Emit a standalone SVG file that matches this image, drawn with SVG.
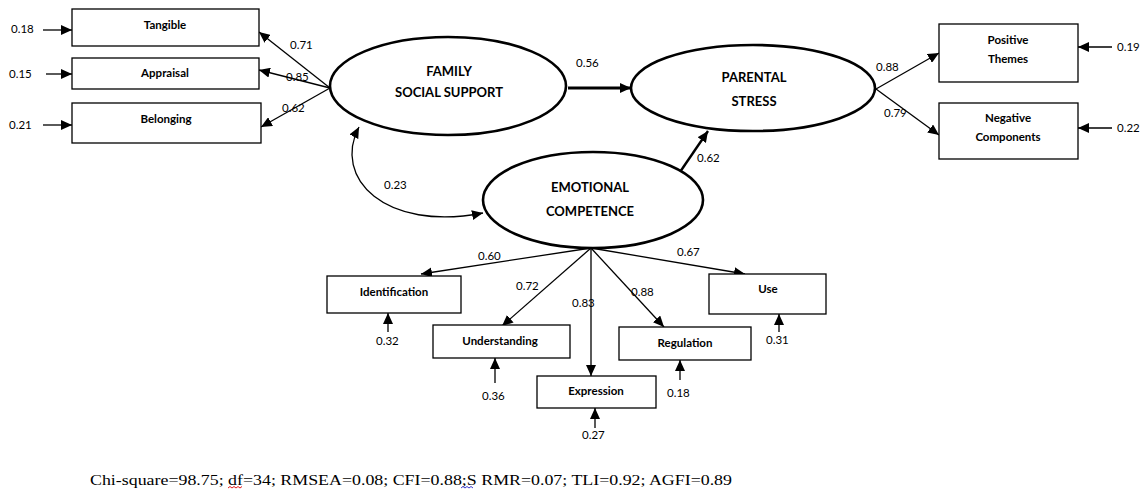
<svg xmlns="http://www.w3.org/2000/svg" width="1147" height="492" viewBox="0 0 1147 492">
<defs>
<marker id="ah" markerUnits="userSpaceOnUse" markerWidth="12" markerHeight="10" refX="11" refY="5" orient="auto-start-reverse">
<path d="M0,0 L11,5 L0,10 z" fill="#000"/>
</marker>
<style>
.box{fill:#fff;stroke:#000;stroke-width:1.3}
.ell{fill:#fff;stroke:#000;stroke-width:2.6}
.lbl{font-family:Lato,"Open Sans","Liberation Sans",sans-serif;font-weight:bold;font-size:11.5px;text-anchor:middle;fill:#000}
.lat{font-family:Lato,"Open Sans","Liberation Sans",sans-serif;font-weight:bold;font-size:13px;text-anchor:middle;fill:#000}
.num{font-family:Lato,"Open Sans","Liberation Sans",sans-serif;font-size:11.5px;fill:#000}
.c{fill:none;stroke:#000;stroke-width:1.3;marker-end:url(#ah)}
.thick{fill:none;stroke:#000;stroke-width:3;marker-end:url(#ah)}
.foot{font-family:"Liberation Serif","Times New Roman",serif;font-size:14px;fill:#000}
</style>
</defs>
<rect width="1147" height="492" fill="#fff"/>

<g id="connectors">
<line class="c" x1="43" y1="30" x2="72" y2="30"/>
<line class="c" x1="46" y1="74" x2="72" y2="74"/>
<line class="c" x1="43" y1="125" x2="72" y2="125"/>
<line class="c" x1="330" y1="88" x2="259" y2="32"/>
<line class="c" x1="330" y1="88" x2="259" y2="70"/>
<line class="c" x1="330" y1="88" x2="261" y2="127"/>
<line class="thick" x1="568" y1="88" x2="631" y2="88"/>
<line class="c" style="stroke-width:2.4" x1="680" y1="172" x2="708" y2="131"/>
<line class="c" x1="876" y1="89" x2="939" y2="53"/>
<line class="c" x1="876" y1="89" x2="939" y2="135"/>
<line class="c" x1="1112" y1="47" x2="1078" y2="47"/>
<line class="c" x1="1112" y1="128" x2="1078" y2="128"/>
<path class="c" style="marker-start:url(#ah)" d="M359 127 C332 178, 385 232, 483 213"/>
<line class="c" x1="591" y1="248" x2="421" y2="274"/>
<line class="c" x1="591" y1="248" x2="502" y2="326"/>
<line class="c" x1="591" y1="248" x2="591" y2="376"/>
<line class="c" x1="591" y1="248" x2="664" y2="327"/>
<line class="c" x1="591" y1="248" x2="745" y2="274"/>
<line class="c" x1="388" y1="332" x2="388" y2="313"/>
<line class="c" x1="495" y1="383" x2="495" y2="358"/>
<line class="c" x1="595" y1="428" x2="595" y2="408"/>
<line class="c" x1="680" y1="380" x2="680" y2="360"/>
<line class="c" x1="779" y1="332" x2="779" y2="314"/>
</g>

<g id="tangible"><rect class="box" x="72" y="9" width="187" height="37"/><text class="lbl" x="165" y="29">Tangible</text></g>
<g id="appraisal"><rect class="box" x="72" y="58" width="187" height="31"/><text class="lbl" x="165" y="77">Appraisal</text></g>
<g id="belonging"><rect class="box" x="72" y="103" width="189" height="40"/><text class="lbl" x="166" y="123">Belonging</text></g>

<g id="fss"><ellipse class="ell" cx="448" cy="86" rx="118" ry="49"/><text class="lat" x="449" y="76">FAMILY</text><text class="lat" x="449" y="97">SOCIAL SUPPORT</text></g>
<g id="ps"><ellipse class="ell" cx="753" cy="88" rx="122" ry="43"/><text class="lat" x="754" y="82">PARENTAL</text><text class="lat" x="754" y="106">STRESS</text></g>
<g id="ec"><ellipse class="ell" cx="593" cy="200" rx="110" ry="48"/><text class="lat" x="590" y="192">EMOTIONAL</text><text class="lat" x="590" y="216">COMPETENCE</text></g>

<g id="positive"><rect class="box" x="939" y="24" width="139" height="58"/><text class="lbl" x="1008" y="44">Positive</text><text class="lbl" x="1008" y="63">Themes</text></g>
<g id="negative"><rect class="box" x="939" y="103" width="139" height="56"/><text class="lbl" x="1008" y="122">Negative</text><text class="lbl" x="1008" y="141">Components</text></g>

<g id="identification"><rect class="box" x="327" y="276" width="134" height="37"/><text class="lbl" x="394" y="296">Identification</text></g>
<g id="understanding"><rect class="box" x="433" y="325" width="137" height="33"/><text class="lbl" x="500" y="345">Understanding</text></g>
<g id="expression"><rect class="box" x="537" y="376" width="119" height="32"/><text class="lbl" x="596" y="395">Expression</text></g>
<g id="regulation"><rect class="box" x="619" y="327" width="132" height="33"/><text class="lbl" x="685" y="347">Regulation</text></g>
<g id="use"><rect class="box" x="709" y="274" width="117" height="40"/><text class="lbl" x="768" y="293">Use</text></g>

<g id="labels" class="num">
<text x="11" y="33">0.18</text>
<text x="9" y="78">0.15</text>
<text x="9" y="129">0.21</text>
<text x="290" y="49">0.71</text>
<text x="286" y="81">0.85</text>
<text x="282" y="112">0.62</text>
<text x="576" y="67">0.56</text>
<text x="697" y="162">0.62</text>
<text x="876" y="71">0.88</text>
<text x="884" y="117">0.79</text>
<text x="1117" y="51">0.19</text>
<text x="1117" y="132">0.22</text>
<text x="384" y="189">0.23</text>
<text x="478" y="260">0.60</text>
<text x="516" y="290">0.72</text>
<text x="572" y="307">0.83</text>
<text x="631" y="296">0.88</text>
<text x="677" y="256">0.67</text>
<text x="376" y="345">0.32</text>
<text x="482" y="400">0.36</text>
<text x="582" y="439">0.27</text>
<text x="667" y="397">0.18</text>
<text x="766" y="344">0.31</text>
</g>

<g id="footer">
<text class="foot" x="90" y="485" textLength="642" lengthAdjust="spacingAndGlyphs">Chi-square=98.75; df=34; RMSEA=0.08; CFI=0.88;S RMR=0.07; TLI=0.92; AGFI=0.89</text>
<path d="M228 488 l2 -1.5 l2 1.5 l2 -1.5 l2 1.5 l2 -1.5 l2 1.5 l2 -1.5" fill="none" stroke="#d00" stroke-width="0.9"/>
<path d="M461 488 l2 -1.5 l2 1.5 l2 -1.5 l2 1.5 l2 -1.5 l2 1.5" fill="none" stroke="#22c" stroke-width="0.9"/>
</g>
</svg>
